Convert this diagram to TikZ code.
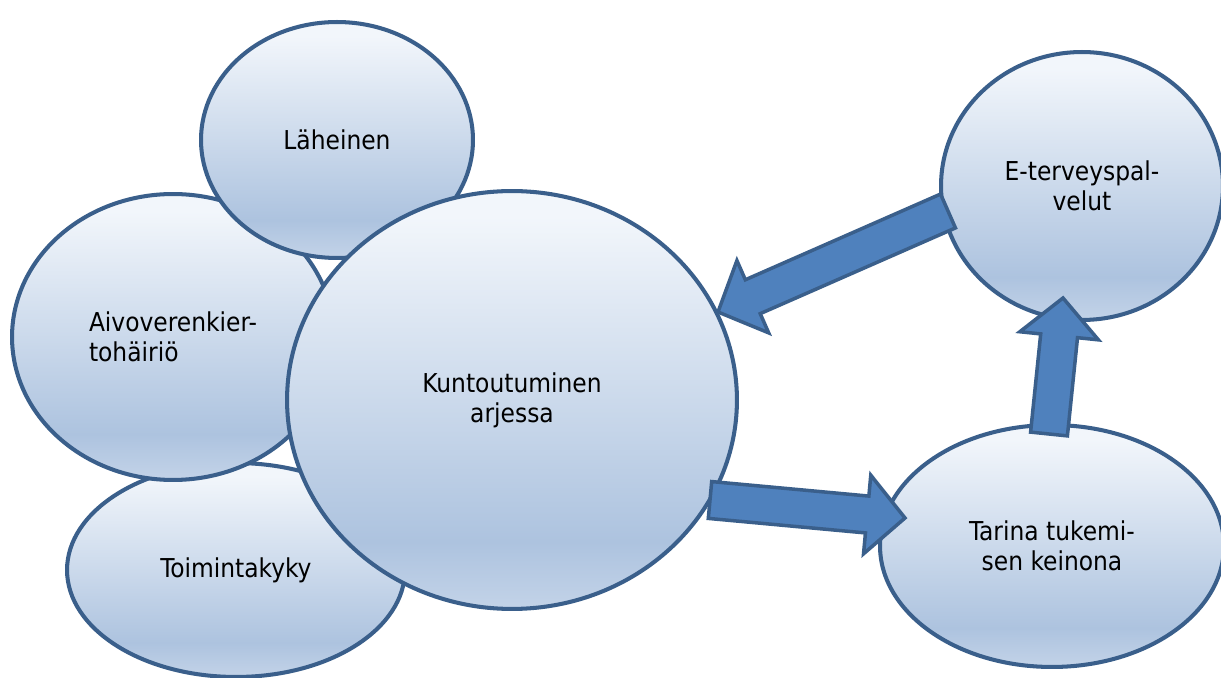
\documentclass[tikz,border=0pt]{standalone}
\usepackage{fontspec}
\setmainfont{DejaVu Sans Condensed}
\usepackage{tikz}
\usetikzlibrary{shapes.geometric,calc}

\definecolor{bubbleline}{HTML}{3A5F8B}
\definecolor{bubbletop}{HTML}{F2F6FB}
\definecolor{bubbledeep}{HTML}{ADC3DF}
\definecolor{bubblefoot}{HTML}{C3D3E8}
\definecolor{arrowfill}{HTML}{4F81BD}

\pgfdeclareverticalshading{bubbleshade}{100bp}{color(0bp)=(bubblefoot); color(25bp)=(bubblefoot); color(33bp)=(bubbledeep); color(72bp)=(bubbletop); color(100bp)=(bubbletop)}

\tikzset{
  bubble/.style={ellipse, draw=bubbleline, line width=2.3pt, shading=bubbleshade, inner sep=0pt, align=center, font=\fontsize{14.8}{17}\selectfont},
  blockarrow/.style={draw=bubbleline, fill=arrowfill, line width=2pt, line join=miter}
}

% block arrow from tail #1 to tip #2
\newcommand{\blockarrow}[2]{%
  \draw [blockarrow] let \p1=(#1), \p2=(#2), \n1={atan2(\y2-\y1,\x2-\x1)}, \n2={veclen(\x2-\x1,\y2-\y1)} in
    ($(\p1)+(\n1+90:0.37cm)$) -- ++(\n1:{\n2-0.76cm}) -- ++(\n1+90:0.42cm) -- (\p2)
    -- ($(\p1)+(\n1:{\n2-0.76cm})+(\n1-90:0.79cm)$) -- ++(\n1+90:0.42cm) -- ($(\p1)+(\n1-90:0.37cm)$) -- cycle;}

\begin{document}
\begin{tikzpicture}[x=0.02cm,y=-0.02cm]
        \useasboundingbox (0,0) rectangle (1221,678);
        \node [bubble, minimum width=6.76cm, minimum height=4.28cm] (3) at (236,570) {Toimintakyky};
        \node [bubble, align=left, minimum width=6.44cm, minimum height=5.72cm] (2) at (173,337) {Aivoverenkier-\\tohäiriö\hspace*{0.3cm}};
        \node [bubble, minimum width=5.44cm, minimum height=4.72cm] (1) at (337,140) {Läheinen};
        \node [bubble, minimum width=9cm, minimum height=8.36cm] (4) at (512,400) {Kuntoutuminen\\arjessa};
        \node [bubble, minimum width=5.64cm, minimum height=5.36cm] (5) at (1082,186) {E-terveyspal-\\velut};
        \node [bubble, minimum width=6.88cm, minimum height=4.84cm] (6) at (1052,546) {Tarina tukemi-\\sen keinona};
        \coordinate (7) at (948,211);
        \coordinate (8) at (718,312);
        \coordinate (9) at (710,500);
        \coordinate (10) at (905,518);
        \coordinate (11) at (1049,434);
        \coordinate (12) at (1063,298);
        \blockarrow{7}{8}
        \blockarrow{9}{10}
        \blockarrow{11}{12}
\end{tikzpicture}
\end{document}
